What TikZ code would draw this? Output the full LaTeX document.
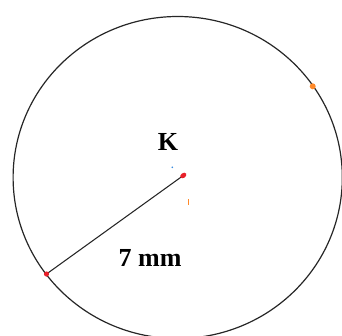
\documentclass[tikz,border=0pt]{standalone}
\usepackage{fontspec}
\setmainfont{Liberation Serif}
\definecolor{dotred}{HTML}{E8202A}
\definecolor{dotorange}{HTML}{FF8A2A}
\definecolor{dotblue}{HTML}{3A8CE0}
\begin{document}
\begin{tikzpicture}[x=0.75pt,y=-0.75pt,
  lbl/.style={font=\fontsize{19.5}{22}\selectfont\bfseries, inner sep=0pt},
  reddot/.style={fill=dotred, draw=none},
  ]
\useasboundingbox (0,0) rectangle (342,335);
\begin{scope}
\clip (0,0) rectangle (342,335);
\draw[line width=0.9pt, black!85] (177.7,177.5) ellipse [x radius=164.6, y radius=161];
\end{scope}
\coordinate (c) at (183.3,175.5);
\coordinate (a) at (46.5,274);
\coordinate (o) at (312.7,86.3);
\draw[line width=0.8pt, black!85] (c) -- (a);
\fill[reddot] (a) circle [radius=2.6];
\fill[reddot, rotate around={36:(c)}] (c) ellipse [x radius=3.4, y radius=2.4];
\fill[dotorange] (o) circle [radius=3];
\fill[dotblue] (172.3,167.3) circle [radius=0.9];
\fill[dotorange] (187.6,199) rectangle (189,204.5);
\node[lbl] (k) at (168,141.5) {K};
\node[lbl] (r) at (150,258) {7 mm};
\end{tikzpicture}
\end{document}
